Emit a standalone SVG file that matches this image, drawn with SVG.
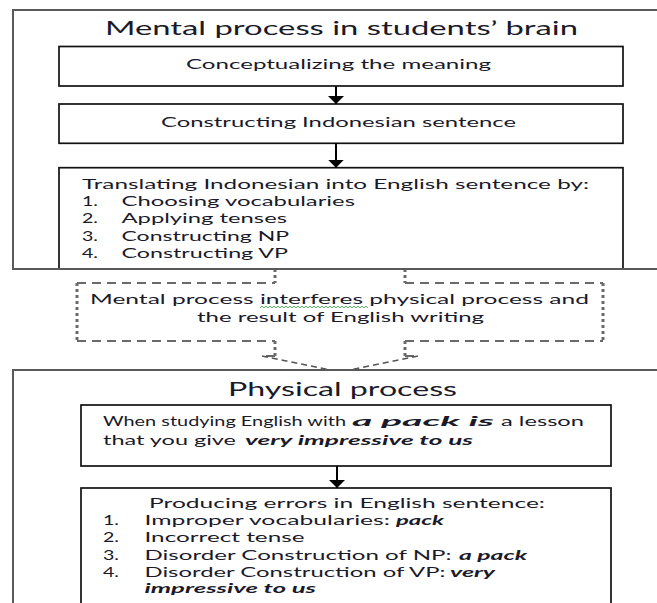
<svg xmlns="http://www.w3.org/2000/svg" width="657" height="603" viewBox="0 0 657 603">
<defs>
<style>
.outer{fill:#fff;stroke:#5a5a5a;stroke-width:2}
.box{fill:#fff;stroke:#111;stroke-width:1.7}
.t{font-family:Lato,"Liberation Sans",sans-serif;font-size:13.8px;fill:#1a1a2a}
.title{font-family:Lato,"Liberation Sans",sans-serif;font-size:19px;fill:#1a1a2a}
.bi{font-weight:bold;font-style:italic}
.dh{fill:none;stroke:#6a6a6a;stroke-width:2.2;stroke-dasharray:9 6}
.dv{fill:none;stroke:#6a6a6a;stroke-width:3;stroke-dasharray:3 3}
.dd{fill:none;stroke:#555;stroke-width:1.6;stroke-dasharray:6 4}
.arrow{fill:none;stroke:#000;stroke-width:2;marker-end:url(#ah)}
</style>
<marker id="ah" markerUnits="userSpaceOnUse" markerWidth="8" markerHeight="16" viewBox="0 0 8 16" refX="8" refY="8" orient="auto">
<path d="M0,0 L8,8 L0,16 z" fill="#000"/>
</marker>
</defs>

<g id="interference">
<path class="dh" d="M77,283 H275 M405,283 H603 M77,341 H275 M405,341 H603 M275,356 H262 M405,356 H418"/>
<path class="dv" d="M77,283 V341 M603,283 V341 M275,269 V283 M405,269 V283 M275,341 V356 M405,341 V356"/>
<path class="dd" d="M262,356 L340,372 M418,356 L340,372"/>
<text class="t" x="90" y="304" textLength="499" lengthAdjust="spacingAndGlyphs">Mental process interferes physical process and</text>
<text class="t" x="197" y="322" textLength="287" lengthAdjust="spacingAndGlyphs">the result of English writing</text>
<path d="M260,308 l2,-2 l2,2 l2,-2 l2,2 l2,-2 l2,2 l2,-2 l2,2 l2,-2 l2,2 l2,-2 l2,2 l2,-2 l2,2 l2,-2 l2,2 l2,-2 l2,2 l2,-2 l2,2 l2,-2 l2,2 l2,-2 l2,2 l2,-2 l2,2 l2,-2 l2,2 l2,-2 l2,2 l2,-2 l2,2 l2,-2 l2,2 l2,-2 l2,2 l2,-2 l2,2 l2,-2 l2,2 l2,-2 l2,2 l2,-2 l2,2 l2,-2 l2,2 l2,-2 l2,2 l2,-2 l2,2 l2,-2 l2,2 l2,-2 l2,2" fill="none" stroke="#4caf50" stroke-width="0.9"/>
</g>

<g id="mental">
<rect class="outer" x="13" y="10" width="660" height="259"/>
<text class="title" x="105" y="35" textLength="473" lengthAdjust="spacingAndGlyphs">Mental process in students’ brain</text>
</g>

<g id="conceptualizing">
<rect class="box" x="59" y="46.5" width="564" height="39.5"/>
<text class="t" x="186" y="68.5" textLength="305" lengthAdjust="spacingAndGlyphs">Conceptualizing the meaning</text>
</g>

<g id="constructing">
<rect class="box" x="59" y="104" width="564" height="39.3"/>
<text class="t" x="161" y="126.5" textLength="355" lengthAdjust="spacingAndGlyphs">Constructing Indonesian sentence</text>
</g>

<g id="translating">
<rect class="box" x="59" y="167.7" width="564" height="101.3"/>
<line x1="13" y1="269" x2="660" y2="269" stroke="#5a5a5a" stroke-width="2"/>
<text class="t" x="82" y="189" textLength="507" lengthAdjust="spacingAndGlyphs">Translating Indonesian into English sentence by:</text>
<text class="t" x="82" y="206" textLength="16" lengthAdjust="spacingAndGlyphs">1.</text>
<text class="t" x="121.5" y="206" textLength="233.5" lengthAdjust="spacingAndGlyphs">Choosing vocabularies</text>
<text class="t" x="82" y="223" textLength="16" lengthAdjust="spacingAndGlyphs">2.</text>
<text class="t" x="121.5" y="223" textLength="165.5" lengthAdjust="spacingAndGlyphs">Applying tenses</text>
<text class="t" x="82" y="241" textLength="16" lengthAdjust="spacingAndGlyphs">3.</text>
<text class="t" x="121.5" y="241" textLength="167.5" lengthAdjust="spacingAndGlyphs">Constructing NP</text>
<text class="t" x="82" y="258" textLength="16" lengthAdjust="spacingAndGlyphs">4.</text>
<text class="t" x="121.5" y="258" textLength="166.5" lengthAdjust="spacingAndGlyphs">Constructing VP</text>
</g>

<g id="physical">
<rect class="outer" x="13" y="370" width="660" height="250"/>
<text class="title" x="228" y="396" textLength="229" lengthAdjust="spacingAndGlyphs">Physical process</text>
</g>

<g id="example">
<rect class="box" x="81" y="405" width="530" height="61"/>
<text class="t" y="426"><tspan x="103" textLength="243" lengthAdjust="spacingAndGlyphs">When studying English with</tspan><tspan class="bi" x="352" textLength="142" lengthAdjust="spacingAndGlyphs">a pack is</tspan><tspan x="501" textLength="83" lengthAdjust="spacingAndGlyphs">a lesson</tspan></text>
<text class="t" y="445"><tspan x="103" textLength="133" lengthAdjust="spacingAndGlyphs">that you give</tspan><tspan class="bi" x="245" textLength="228" lengthAdjust="spacingAndGlyphs">very impressive to us</tspan></text>
</g>

<g id="errors">
<rect class="box" x="81" y="488" width="530" height="130"/>
<text class="t" x="149" y="508" textLength="396" lengthAdjust="spacingAndGlyphs">Producing errors in English sentence:</text>
<text class="t" x="103" y="525" textLength="16" lengthAdjust="spacingAndGlyphs">1.</text>
<text class="t" y="525"><tspan x="144.5" textLength="245.5" lengthAdjust="spacingAndGlyphs">Improper vocabularies:</tspan><tspan class="bi" x="396" textLength="48" lengthAdjust="spacingAndGlyphs">pack</tspan></text>
<text class="t" x="103" y="542" textLength="16" lengthAdjust="spacingAndGlyphs">2.</text>
<text class="t" x="144.5" y="542" textLength="160" lengthAdjust="spacingAndGlyphs">Incorrect tense</text>
<text class="t" x="103" y="560" textLength="16" lengthAdjust="spacingAndGlyphs">3.</text>
<text class="t" y="560"><tspan x="144.5" textLength="307" lengthAdjust="spacingAndGlyphs">Disorder Construction of NP:</tspan><tspan class="bi" x="459" textLength="68" lengthAdjust="spacingAndGlyphs">a pack</tspan></text>
<text class="t" x="103" y="577" textLength="16" lengthAdjust="spacingAndGlyphs">4.</text>
<text class="t" y="577"><tspan x="144.5" textLength="301" lengthAdjust="spacingAndGlyphs">Disorder Construction of VP:</tspan><tspan class="bi" x="450" textLength="45" lengthAdjust="spacingAndGlyphs">very</tspan></text>
<text class="t bi" x="144.5" y="593" textLength="171.5" lengthAdjust="spacingAndGlyphs">impressive to us</text>
</g>

<g id="connectors">
<line class="arrow" x1="336" y1="86" x2="336" y2="104"/>
<line class="arrow" x1="336" y1="143.3" x2="336" y2="167.7"/>
<line class="arrow" x1="337" y1="466" x2="337" y2="488"/>
</g>
</svg>
